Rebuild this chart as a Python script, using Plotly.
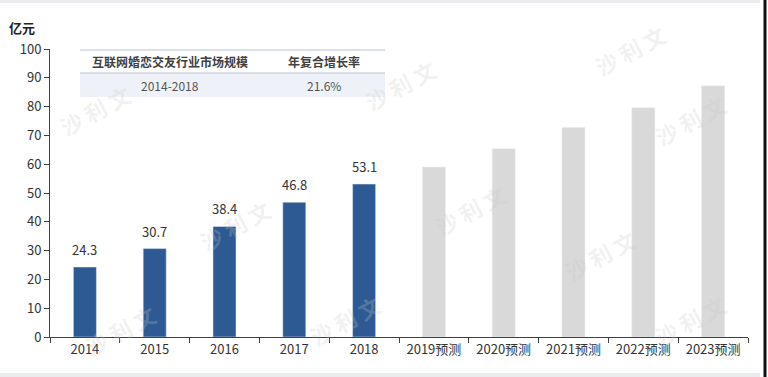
import plotly.graph_objects as go

categories = ["2014", "2015", "2016", "2017", "2018",
              "2019预测", "2020预测", "2021预测", "2022预测", "2023预测"]
actual_values = [24.3, 30.7, 38.4, 46.8, 53.1, None, None, None, None, None]
forecast_values = [None, None, None, None, None, 59.0, 65.4, 72.7, 79.6, 87.2]
actual_labels = ["24.3", "30.7", "38.4", "46.8", "53.1", "", "", "", "", ""]
y_ticks = [0, 10, 20, 30, 40, 50, 60, 70, 80, 90, 100]
table_header = ["互联网婚恋交友行业市场规模", "年复合增长率"]
table_row = ["2014-2018", "21.6%"]
unit_label = "亿元"
watermark = "沙 利 文"

FONT = "Noto Sans CJK SC, Noto Sans, sans-serif"

fig = go.Figure()
fig.add_trace(go.Bar(
    x=categories, y=actual_values, marker_color="#2e5a93", showlegend=False))
fig.add_trace(go.Bar(
    x=categories, y=forecast_values, marker_color="#d9d9d9", showlegend=False))

fig.update_layout(
    width=768, height=377,
    margin=dict(l=50, r=20, t=49, b=40),
    paper_bgcolor="white", plot_bgcolor="white",
    barmode="overlay", bargap=0.67,
    font=dict(family=FONT, color="#333333"),
    xaxis=dict(type="category", showline=True, linecolor="#404040", linewidth=1,
               ticks="outside", tickson="boundaries", ticklen=5, tickcolor="#404040",
               tickfont=dict(size=13, color="#333333"), showgrid=False),
    yaxis=dict(range=[0, 100], tickvals=y_ticks, showline=True, linecolor="#404040",
               linewidth=1, ticks="outside", ticklen=5, tickcolor="#404040",
               tickfont=dict(size=13, color="#333333"), showgrid=False, zeroline=False),
)

px = lambda x: (x - 50) / 698
py = lambda y: (337 - y) / 288

shapes = []
shapes.append(dict(type="rect", xref="paper", yref="paper", x0=px(0), x1=px(760),
                   y0=py(3), y1=py(0), fillcolor="#e9ebee", line_width=0, layer="below"))
shapes.append(dict(type="rect", xref="paper", yref="paper", x0=px(0), x1=px(760),
                   y0=py(377), y1=py(373), fillcolor="#e9ebee", line_width=0, layer="below"))
shapes.append(dict(type="line", xref="paper", yref="paper", x0=px(765), x1=px(765),
                   y0=py(377), y1=py(0), line=dict(color="#111111", width=3)))
shapes.append(dict(type="rect", xref="paper", yref="paper", x0=px(80), x1=px(385),
                   y0=py(97), y1=py(73), fillcolor="#eef2f8", line_width=0, layer="below"))
shapes.append(dict(type="line", xref="paper", yref="paper", x0=px(80), x1=px(385),
                   y0=py(50), y1=py(50), line=dict(color="#b7c3d3", width=1)))
shapes.append(dict(type="line", xref="paper", yref="paper", x0=px(80), x1=px(385),
                   y0=py(73), y1=py(73), line=dict(color="#b7c3d3", width=1)))
fig.update_layout(shapes=shapes)

ann = []
for (wx, wy) in [(95, 110), (400, 85), (630, 50), (235, 225), (600, 255), (690, 120),
                 (120, 330), (345, 320), (690, 320), (470, 210)]:
    ann.append(dict(text=watermark, x=px(wx), y=py(wy), xref="paper", yref="paper",
                    xanchor="center", yanchor="middle",
                    showarrow=False, textangle=-28,
                    font=dict(size=22, color="rgba(200,200,200,0.25)", family=FONT, weight="bold")))
for i, (val, lab) in enumerate(zip(actual_values, actual_labels)):
    if val is not None:
        ann.append(dict(text=lab, x=i, y=val, xref="x", yref="y",
                        xanchor="center", yanchor="bottom", yshift=6, showarrow=False,
                        font=dict(size=13, color="#333333", family=FONT)))
ann.append(dict(text=table_header[0], x=px(170), y=py(62), xref="paper", yref="paper",
                xanchor="center", yanchor="middle",
                showarrow=False, font=dict(size=12, color="#404040", family=FONT, weight="bold")))
ann.append(dict(text=table_header[1], x=px(324), y=py(62), xref="paper", yref="paper",
                xanchor="center", yanchor="middle",
                showarrow=False, font=dict(size=12, color="#404040", family=FONT, weight="bold")))
ann.append(dict(text=table_row[0], x=px(170), y=py(85), xref="paper", yref="paper",
                xanchor="center", yanchor="middle",
                showarrow=False, font=dict(size=12, color="#555555", family=FONT)))
ann.append(dict(text=table_row[1], x=px(324), y=py(85), xref="paper", yref="paper",
                xanchor="center", yanchor="middle",
                showarrow=False, font=dict(size=12, color="#555555", family=FONT)))
ann.append(dict(text=unit_label, x=px(22), y=py(27), xref="paper", yref="paper",
                xanchor="center", yanchor="middle",
                showarrow=False, font=dict(size=13, color="#222222", family=FONT, weight="bold")))
fig.update_layout(annotations=ann)

fig.write_html("out.html", config={"displayModeBar": False},
               post_script="document.body.style.margin='0';")
